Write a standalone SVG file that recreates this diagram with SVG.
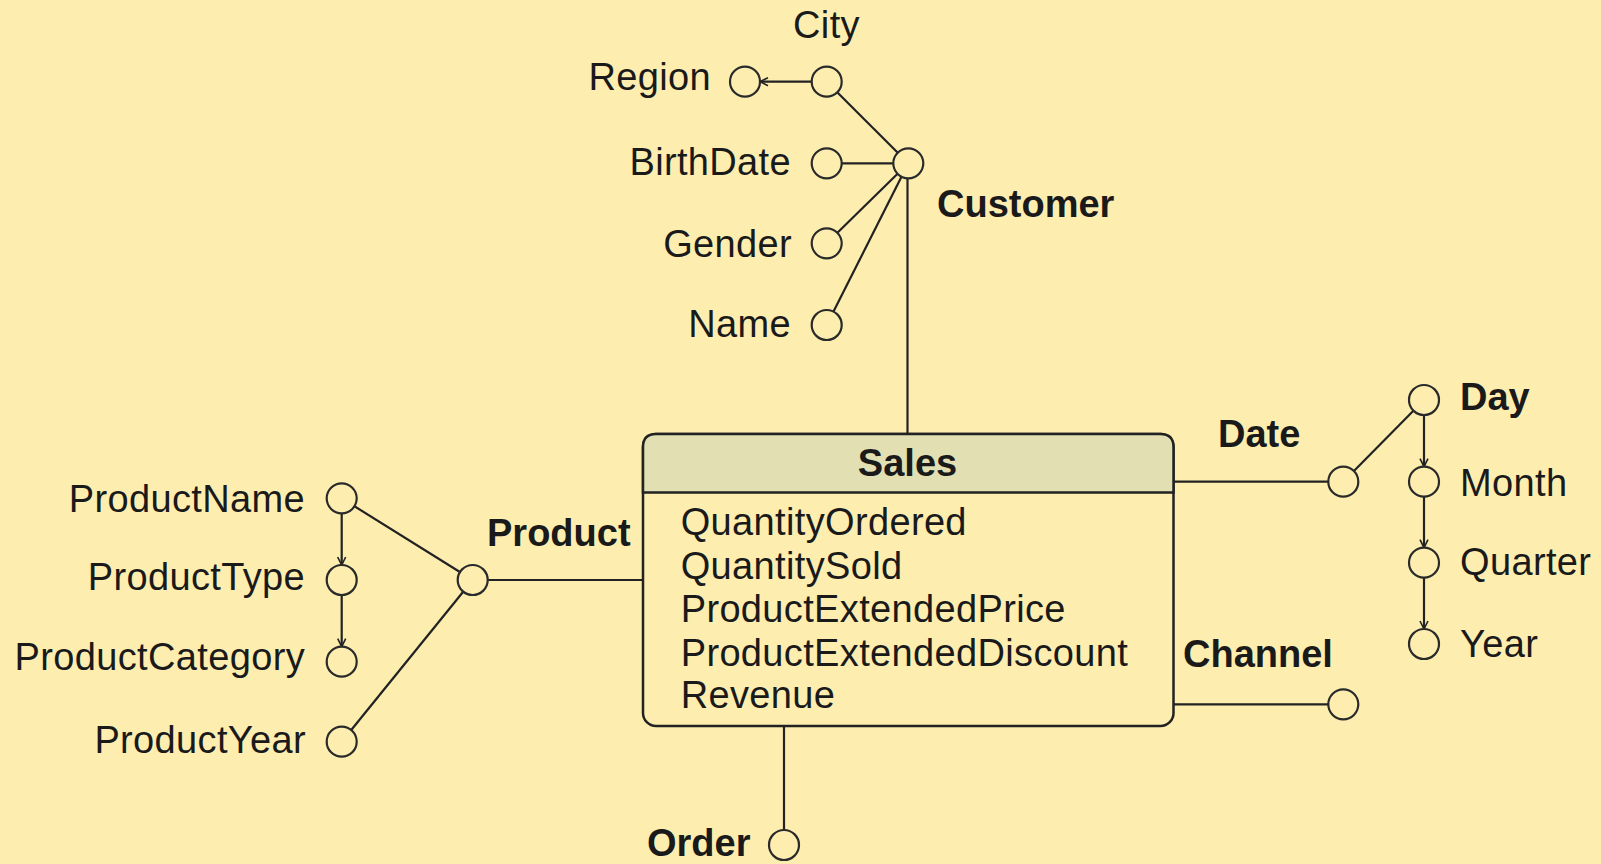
<svg xmlns="http://www.w3.org/2000/svg" width="1601" height="864" viewBox="0 0 1601 864">
<defs>
<style>
.bg{fill:#fdeeb0}
.c{fill:#fdeeb0;stroke:#2a2a2a;stroke-width:2.2}
.ln{stroke:#222;stroke-width:2.2;fill:none}
.t{font-family:"Liberation Sans",Arial,sans-serif;font-size:38px;fill:#1a1a1a;letter-spacing:0.35px}
.b{font-family:"Liberation Sans",Arial,sans-serif;font-size:38px;font-weight:bold;fill:#1a1a1a}
.e{text-anchor:end}
.m{text-anchor:middle}
</style>
<marker id="arr" viewBox="0 0 10 10" refX="9" refY="5" markerWidth="10" markerHeight="10" markerUnits="userSpaceOnUse" orient="auto">
<path d="M1,1 L9,5 L1,9" fill="none" stroke="#222" stroke-width="1.6"/>
</marker>
</defs>
<rect class="bg" x="0" y="0" width="1601" height="864"/>

<g id="connectors">
<line class="ln" x1="811.7" y1="81.7" x2="760" y2="81.7" marker-end="url(#arr)"/>
<line class="ln" x1="826.7" y1="81.7" x2="908.3" y2="163.3"/>
<line class="ln" x1="826.7" y1="163.3" x2="908.3" y2="163.3"/>
<line class="ln" x1="826.7" y1="243.3" x2="908.3" y2="163.3"/>
<line class="ln" x1="826.7" y1="325" x2="908.3" y2="163.3"/>
<line class="ln" x1="907.5" y1="170" x2="907.5" y2="434"/>
<line class="ln" x1="341.7" y1="498.3" x2="472.7" y2="580"/>
<line class="ln" x1="341.7" y1="741.7" x2="472.7" y2="580"/>
<line class="ln" x1="341.7" y1="513.3" x2="341.7" y2="565" marker-end="url(#arr)"/>
<line class="ln" x1="341.7" y1="595" x2="341.7" y2="646.7" marker-end="url(#arr)"/>
<line class="ln" x1="472.7" y1="580" x2="643" y2="580"/>
<line class="ln" x1="1173" y1="481.7" x2="1343.3" y2="481.7"/>
<line class="ln" x1="1343.3" y1="481.7" x2="1424" y2="400"/>
<line class="ln" x1="1424" y1="415" x2="1424" y2="466.7" marker-end="url(#arr)"/>
<line class="ln" x1="1424" y1="496.7" x2="1424" y2="547.7" marker-end="url(#arr)"/>
<line class="ln" x1="1424" y1="577.7" x2="1424" y2="629" marker-end="url(#arr)"/>
<line class="ln" x1="1173" y1="704.3" x2="1343.3" y2="704.3"/>
<line class="ln" x1="784" y1="726" x2="784" y2="830"/>
</g>

<g id="sales">
<rect x="643" y="434" width="530.5" height="292" rx="13" ry="13" fill="#fdeeb0" stroke="#222" stroke-width="2.5"/>
<path d="M643,492.5 L643,447 Q643,434 656,434 L1160.5,434 Q1173.5,434 1173.5,447 L1173.5,492.5 Z" fill="#e2e0b3" stroke="#222" stroke-width="2.5"/>
<text class="b m" x="907.5" y="476">Sales</text>
<text class="t" x="680.7" y="535">QuantityOrdered</text>
<text class="t" x="680.7" y="579">QuantitySold</text>
<text class="t" x="680.7" y="622">ProductExtendedPrice</text>
<text class="t" x="680.7" y="666">ProductExtendedDiscount</text>
<text class="t" x="680.7" y="708">Revenue</text>
</g>

<g id="customer"><circle class="c" cx="908.3" cy="163.3" r="15"/><text class="b" x="937" y="217">Customer</text></g>
<g id="city"><circle class="c" cx="826.7" cy="81.7" r="15"/><text class="t m" x="826.5" y="38">City</text></g>
<g id="region"><circle class="c" cx="745" cy="81.7" r="15"/><text class="t e" x="711" y="90">Region</text></g>
<g id="birthdate"><circle class="c" cx="826.7" cy="163.3" r="15"/><text class="t e" x="791" y="175">BirthDate</text></g>
<g id="gender"><circle class="c" cx="826.7" cy="243.3" r="15"/><text class="t e" x="792" y="256.5">Gender</text></g>
<g id="name"><circle class="c" cx="826.7" cy="325" r="15"/><text class="t e" x="791" y="337">Name</text></g>

<g id="product"><circle class="c" cx="472.7" cy="580" r="15"/><text class="b" x="487" y="546">Product</text></g>
<g id="productname"><circle class="c" cx="341.7" cy="498.3" r="15"/><text class="t e" x="305" y="511.5">ProductName</text></g>
<g id="producttype"><circle class="c" cx="341.7" cy="580" r="15"/><text class="t e" x="305" y="589.5">ProductType</text></g>
<g id="productcategory"><circle class="c" cx="341.7" cy="661.7" r="15"/><text class="t e" x="305" y="670">ProductCategory</text></g>
<g id="productyear"><circle class="c" cx="341.7" cy="741.7" r="15"/><text class="t e" x="306" y="753">ProductYear</text></g>

<g id="date"><circle class="c" cx="1343.3" cy="481.7" r="15"/><text class="b" x="1218" y="447">Date</text></g>
<g id="day"><circle class="c" cx="1424" cy="400" r="15"/><text class="b" x="1460" y="410">Day</text></g>
<g id="month"><circle class="c" cx="1424" cy="481.7" r="15"/><text class="t" x="1460" y="496">Month</text></g>
<g id="quarter"><circle class="c" cx="1424" cy="562.7" r="15"/><text class="t" x="1460" y="575">Quarter</text></g>
<g id="year"><circle class="c" cx="1424" cy="644" r="15"/><text class="t" x="1460" y="657">Year</text></g>

<g id="channel"><circle class="c" cx="1343.3" cy="704.3" r="15"/><text class="b" x="1183" y="667">Channel</text></g>
<g id="order"><circle class="c" cx="784" cy="845" r="15"/><text class="b" x="647" y="856">Order</text></g>
</svg>
